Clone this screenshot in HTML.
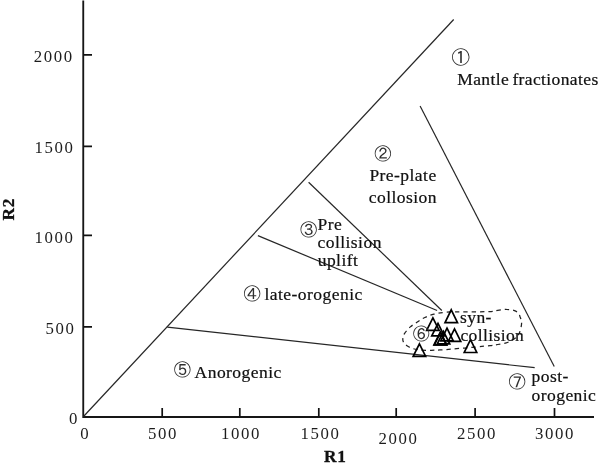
<!DOCTYPE html>
<html>
<head>
<meta charset="utf-8">
<title>R1-R2 diagram</title>
<style>
html,body{margin:0;padding:0;background:#fff;}
body{width:602px;height:466px;overflow:hidden;}
svg{display:block;}
text{font-family:"Liberation Serif",serif;fill:#111;}
.lbl text{stroke:#111;stroke-width:0.22px;}
.num text{fill:#1c1c1c;}
.num{font-size:16.8px;letter-spacing:1.6px;}
.lbl{font-size:17.5px;letter-spacing:0.45px;word-spacing:-1.4px;}
.ax{font-size:17.3px;font-weight:bold;letter-spacing:0.6px;stroke:#111;stroke-width:0.3px;}
.ln{stroke:#262626;stroke-width:1.2;fill:none;}
.axl{stroke:#161616;stroke-width:1.85;fill:none;}
.tk{stroke:#111;stroke-width:1.7;fill:none;}
.tri{stroke:#000;stroke-width:1.7;fill:none;stroke-linejoin:miter;}
.cj text{font-family:"IPAGothic","Noto Sans CJK JP",sans-serif;text-anchor:middle;fill:#2e2e2e;}
</style>
</head>
<body>
<svg width="602" height="466" viewBox="0 0 602 466">
<rect width="602" height="466" fill="#fff"/>
<!-- axes -->
<path class="axl" d="M83.25 0.6V417H594"/>
<path class="tk" d="M83.5 54.8H92M83.5 146.4H92M83.5 235.3H92M83.5 326.9H92"/>
<path class="tk" d="M162.2 416.5V408M239.8 416.5V408M318.8 416.5V408M396.2 416.5V408M475.1 416.5V408M554.5 416.5V408"/>
<!-- field lines -->
<path class="ln" d="M83.5 416.5L453.7 19.5"/>
<path class="ln" d="M420.1 106L554.25 366.6"/>
<path class="ln" d="M308.6 182.2L441.8 310.5"/>
<path class="ln" d="M257.9 235.6L437.1 310.5"/>
<path class="ln" d="M167.3 327.1L534.7 367.7"/>
<!-- dashed field -->
<path class="ln" stroke-dasharray="4.4 3.9" stroke-dashoffset="3" style="stroke-width:1.25;stroke:#222" d="M402.8 339.5C402.8 337.8 403.4 335.5 404.6 333.4C405.9 331.3 408.2 328.8 410.3 326.9C412.4 325.0 414.9 323.7 417.3 322.1C419.7 320.5 422.0 318.8 424.8 317.5C427.6 316.2 430.3 315.1 433.9 314.2C437.5 313.3 441.3 312.6 446.5 312.2C451.7 311.8 457.9 311.9 465 311.8C472.1 311.7 483.7 311.9 489.1 311.6C494.6 311.4 494.8 310.7 497.7 310.3C500.6 309.9 503.7 309.3 506.5 309.4C509.3 309.4 512.4 309.9 514.4 310.6C516.4 311.3 517.6 312.3 518.6 313.4C519.6 314.5 519.7 315.8 520.2 317.2C520.7 318.6 521.3 320.1 521.5 321.5C521.7 322.9 521.6 324.0 521.3 325.8C521.0 327.6 520.3 330.5 519.7 332.2C519.1 333.9 518.6 334.7 517.5 336C516.4 337.3 514.9 338.7 513 339.8C511.1 340.9 508.8 342.1 506.2 342.9C503.6 343.7 500.4 344.1 497.7 344.5C495.0 344.9 493.7 345.2 490.1 345.6C486.5 346.0 482.2 346.4 476 347C469.8 347.6 459.0 348.5 453 349C447.0 349.5 443.6 349.7 440 349.9C436.4 350.1 434.6 350.3 431.3 350.3C428.0 350.3 423.1 350.3 420 350C416.9 349.7 414.5 349.1 412.5 348.5C410.5 347.9 409.5 347.3 408.2 346.5C406.9 345.7 405.4 344.7 404.5 343.5C403.6 342.3 402.8 341.2 402.8 339.5Z"/>
<!-- triangles -->
<g class="tri">
<path d="M451.25 309.8L457.5 322.7H445Z"/>
<path d="M432.9 317.9L439.15 330.4H426.65Z"/>
<path d="M438 323.4L444.25 335.9H431.75Z"/>
<path d="M447 328.2L453.25 340.8H440.75Z"/>
<path d="M454.5 328.8L460.75 341.4H448.25Z"/>
<path d="M440.2 332.4L446.45 345H433.95Z"/>
<path d="M440.6 332.2L446.85 344.8H434.35Z"/>
<path d="M443.5 331.3L449.75 343.9H437.25Z"/>
<path d="M470.5 339.7L476.75 352.5H464.25Z"/>
<path d="M419.4 343.8L425.65 356.4H413.15Z"/>
</g>
<!-- circled numbers -->
<g class="cj">
<text x="460.85" y="63.92" style="font-size:18.5px">①</text>
<text x="382.8" y="160.06" style="font-size:17.3px">②</text>
<text x="308.7" y="236.41" style="font-size:17.3px">③</text>
<text x="252.05" y="300.36" style="font-size:17.3px">④</text>
<text x="182.35" y="376.41" style="font-size:17.3px">⑤</text>
<text x="421.15" y="340.39" style="font-size:17.0px">⑥</text>
<text x="517.2" y="388.46" style="font-size:17.3px">⑦</text>
</g>
<!-- labels -->
<g class="lbl">
<text x="457.2" y="84.7" style="letter-spacing:0.38px">Mantle fractionates</text>
<text x="369.4" y="181">Pre-plate</text>
<text x="368.8" y="203.3">collosion</text>
<text x="317.6" y="229.5">Pre</text>
<text x="317.5" y="248.1">collision</text>
<text x="317.7" y="265.9">uplift</text>
<text x="264.5" y="299.5">late-orogenic</text>
<text x="194.6" y="377.6">Anorogenic</text>
<text x="460.1" y="323.4" style="letter-spacing:0.4px">syn-</text>
<text x="460.4" y="340.5" style="letter-spacing:0.4px">collision</text>
<text x="531.5" y="382.3">post-</text>
<text x="531.5" y="401.1">orogenic</text>
</g>
<!-- tick labels -->
<g class="num">
<text x="33.8" y="62">2000</text>
<text x="34.6" y="153">1500</text>
<text x="34.6" y="242.5">1000</text>
<text x="45.5" y="334">500</text>
<text x="69" y="423.6">0</text>
<text x="80.2" y="439.3">0</text>
<text x="148" y="439.3">500</text>
<text x="221" y="439.3">1000</text>
<text x="300.5" y="439.3">1500</text>
<text x="378.5" y="444.2">2000</text>
<text x="457" y="439.4">2500</text>
<text x="535" y="439.4">3000</text>
</g>
<!-- axis titles -->
<text class="ax" x="324.1" y="462.3">R1</text>
<text class="ax" transform="translate(14.2 220.4) rotate(-90)">R2</text>
</svg>
</body>
</html>
